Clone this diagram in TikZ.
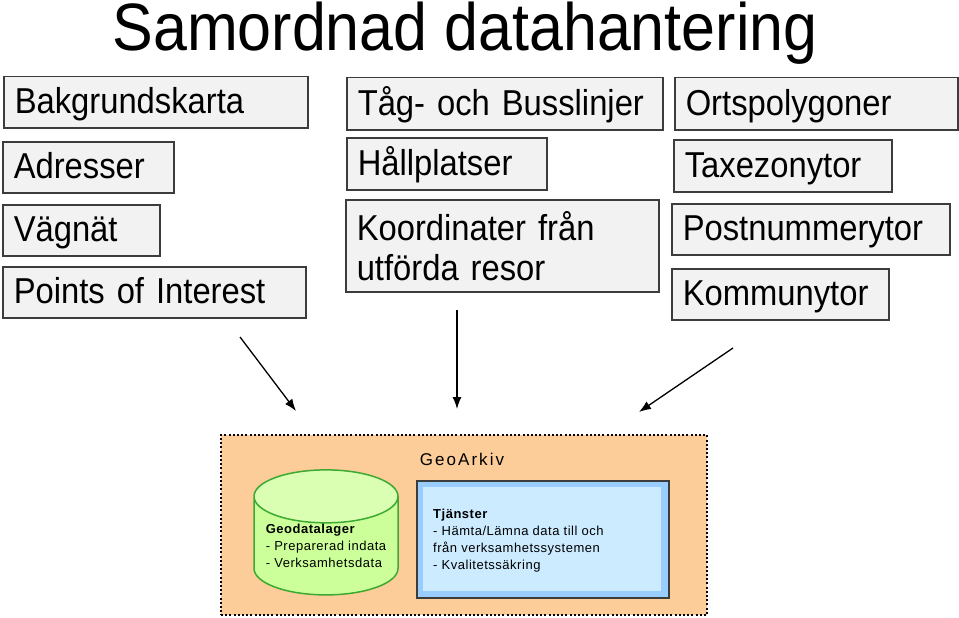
\documentclass[tikz,border=0pt]{standalone}
\usepackage{fontspec}
\setmainfont{Liberation Sans}
\newfontfamily\condfont[FakeStretch=0.91]{Liberation Sans}
\newfontfamily\spacedfont[LetterSpace=4]{Liberation Sans}
\newfontfamily\geofont[LetterSpace=12]{Liberation Sans}
\usetikzlibrary{arrows.meta,shapes.geometric}
\definecolor{boxgray}{RGB}{242,242,242}
\definecolor{boxline}{RGB}{60,60,60}
\definecolor{peach}{RGB}{252,204,153}
\definecolor{cylbody}{RGB}{204,255,153}
\definecolor{cyltop}{RGB}{218,255,178}
\definecolor{cylline}{RGB}{60,170,50}
\definecolor{blueout}{RGB}{153,204,255}
\definecolor{bluein}{RGB}{204,235,255}

\begin{document}
\begin{tikzpicture}[x=1pt,y=-1pt,
    >={Latex[length=12pt,width=9pt]},
    srcbase/.style={draw=boxline,fill=boxgray,line width=1.5pt,anchor=north west,
      inner xsep=11pt,inner ysep=0pt,align=left,minimum height=51pt,
      font=\condfont\fontsize{36}{40}\selectfont},
    src/.style={srcbase,text height=29pt,text depth=6pt},
    small/.style={font=\spacedfont\fontsize{13}{17}\selectfont,align=left}]
      \useasboundingbox (0,0) rectangle (959,618);
      \node[anchor=base,font=\condfont\fontsize{67}{70}\selectfont] (title) at (465,51) {Samordnad datahantering};
      %% Left column
      \node[src,text width=282pt] (bak) at (3,76) {Bakgrundskarta};
      \node[src,text width=149pt] (adr) at (2,141) {Adresser};
      \node[src,text width=135pt] (vag) at (2,204) {Vägnät};
      \node[src,text width=281pt] (poi) at (2,266) {Points of Interest};
      %% Middle column
      \node[src,text width=294pt,minimum height=52pt] (tag) at (346,77) {Tåg- och Busslinjer};
      \node[src,text width=178pt,minimum height=52pt] (hal) at (346,137) {Hållplatser};
      \node[srcbase,text width=291pt,minimum height=92pt] (koo) at (345,199) {Koordinater från\\utförda resor};
      %% Right column
      \node[src,text width=261pt,minimum height=52pt] (ort) at (674,77) {Ortspolygoner};
      \node[src,text width=196pt,minimum height=52pt] (tax) at (673,139) {Taxezonytor};
      \node[src,text width=256pt] (pnr) at (671,203) {Postnummerytor};
      \node[src,text width=195pt] (kom) at (671,268) {Kommunytor};
      %% GeoArkiv
      \node[draw,line width=2pt,dash pattern=on 2pt off 2.2pt,fill=peach,anchor=north west,
        minimum width=486pt,minimum height=180pt] (geo) at (220,434) {};
      \node[anchor=base,font=\geofont\fontsize{17}{20}\selectfont] (geolabel) at (462,465) {GeoArkiv};
      \node[cylinder,shape border rotate=90,aspect=0.44,draw=cylline,line width=1.5pt,
        cylinder uses custom fill,cylinder body fill=cylbody,cylinder end fill=cyltop,
        minimum width=144pt,minimum height=125pt,inner sep=0pt,small] (lager) at (326,546)
        {\textbf{Geodatalager}\\- Preparerad indata\\- Verksamhetsdata};
      \node[draw=boxline,line width=1.5pt,fill=blueout,anchor=north west,
        minimum width=252pt,minimum height=117pt] (tj) at (416,480) {};
      \fill[bluein] ([shift={(7,7)}]tj.north west) rectangle ([shift={(-9,-8)}]tj.south east);
      \node[small,anchor=west,inner sep=0pt] (tjtext) at (433,541)
        {\textbf{Tjänster}\\- Hämta/Lämna data till och\\från verksamhetssystemen\\- Kvalitetssäkring};
      %% Arrows
      \coordinate (from1) at (240,337);
      \coordinate (to1) at (296,411);
      \coordinate (from2) at (457,310);
      \coordinate (to2) at (457,409);
      \coordinate (from3) at (733,348);
      \coordinate (to3) at (639,412);
      \draw[->,line width=1.3pt] (from1) -- (to1);
      \draw[->,line width=1.3pt] (from2) -- (to2);
      \draw[->,line width=1.3pt] (from3) -- (to3);
    \end{tikzpicture}
\end{document}
